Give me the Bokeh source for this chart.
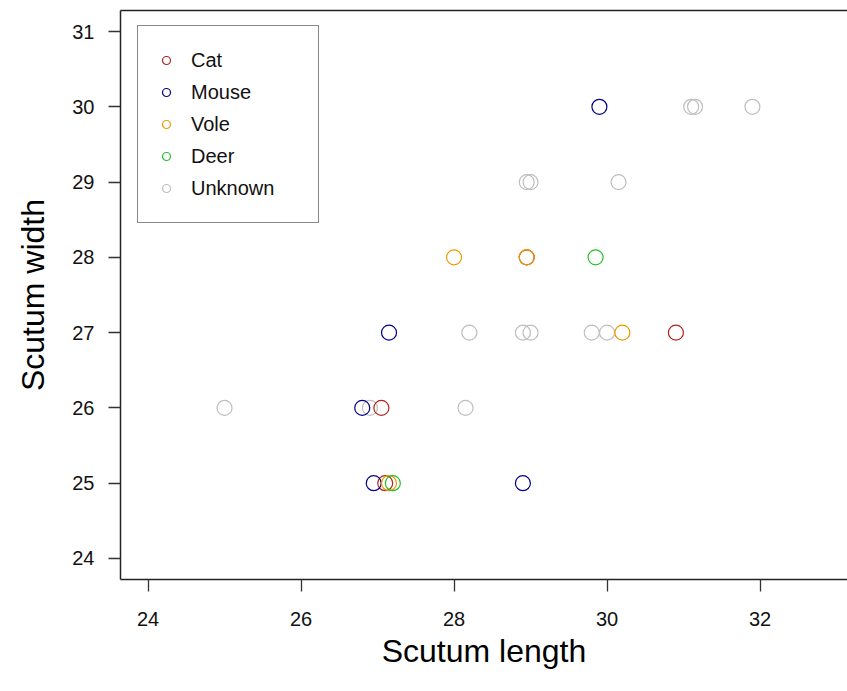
from bokeh.plotting import figure
from bokeh.models import Legend, LegendItem, LinearAxis, FixedTicker, Range1d
from bokeh.embed import file_html
from bokeh.resources import INLINE

# ---- data ----
cat_x = [27.05, 27.10, 28.95, 30.90]
cat_y = [26, 25, 28, 27]
mouse_x = [26.80, 26.95, 27.15, 28.90, 29.90]
mouse_y = [26, 25, 27, 25, 30]
vole_x = [27.15, 28.00, 28.95, 30.20]
vole_y = [25, 28, 28, 27]
deer_x = [27.20, 29.85]
deer_y = [25, 28]
unknown_x = [25.00, 26.90, 28.15, 28.20, 28.90, 29.00, 29.80, 30.00,
             28.95, 29.00, 30.15, 31.10, 31.15, 31.90]
unknown_y = [26, 26, 26, 27, 27, 27, 27, 27,
             29, 29, 29, 30, 30, 30]

series_names = ["Cat", "Mouse", "Vole", "Deer", "Unknown"]
series_colors = ["#B22222", "#00008B", "#EE9A00", "#22C422", "#BEBEBE"]
x_ticks = [24, 26, 28, 30, 32]
y_ticks = [24, 25, 26, 27, 28, 29, 30, 31]

FONT = "Liberation Sans"

p = figure(width=847, height=691, output_backend="svg", toolbar_location=None,
           x_range=Range1d(23.64, 33.143), y_range=Range1d(23.72, 31.28),
           min_border_left=120, min_border_right=0, min_border_top=10,
           min_border_bottom=112)
p.outline_line_color = None
p.xgrid.visible = False
p.ygrid.visible = False

data = {
    "Cat": (cat_x, cat_y),
    "Mouse": (mouse_x, mouse_y),
    "Vole": (vole_x, vole_y),
    "Deer": (deer_x, deer_y),
    "Unknown": (unknown_x, unknown_y),
}

renderers = {}
for name in ["Unknown", "Cat", "Mouse", "Vole", "Deer"]:
    xs, ys = data[name]
    col = series_colors[series_names.index(name)]
    r = p.scatter(x=xs, y=ys, marker="circle", size=15, fill_color=None,
                  line_color=col, line_width=1.2)
    renderers[name] = r

# axes styling
for ax, ticks in ((p.xaxis[0], x_ticks), (p.yaxis[0], y_ticks)):
    ax.ticker = FixedTicker(ticks=ticks)
    ax.minor_tick_line_color = None
    ax.major_tick_in = 0
    ax.major_tick_out = 12
    ax.major_tick_line_color = "#333333"
    ax.major_tick_line_width = 1.3
    ax.axis_line_color = "#222222"
    ax.axis_line_width = 1.5
    ax.major_label_text_font = FONT
    ax.major_label_text_font_size = "20px"
    ax.major_label_text_color = "#111111"
    ax.axis_label_text_font = FONT
    ax.axis_label_text_font_size = "32px"
    ax.axis_label_text_font_style = "normal"
    ax.axis_label_text_color = "#000000"

p.xaxis[0].axis_label = "Scutum length"
p.yaxis[0].axis_label = "Scutum width"
p.xaxis[0].major_label_standoff = 20
p.yaxis[0].major_label_standoff = 14
p.xaxis[0].axis_label_standoff = 4
p.yaxis[0].axis_label_standoff = 18
p.yaxis[0].major_label_orientation = "horizontal"

# top border line
top = LinearAxis(ticker=FixedTicker(ticks=[]), major_label_text_font_size="0px",
                 major_tick_out=0, major_tick_in=0, minor_tick_out=0, minor_tick_in=0,
                 major_label_standoff=0, axis_line_color="#222222", axis_line_width=1.5)
p.add_layout(top, "above")

legend = Legend(items=[LegendItem(label=n, renderers=[renderers[n]]) for n in series_names],
                location=(17, 356))
legend.label_text_font = FONT
legend.label_text_font_size = "20px"
legend.label_text_color = "#111111"
legend.glyph_width = 20
legend.glyph_height = 32
legend.label_height = 32
legend.spacing = 0
legend.padding = 18
legend.label_standoff = 15
legend.label_width = 109
legend.border_line_color = "#111111"
legend.border_line_width = 1.2
legend.background_fill_alpha = 1
p.add_layout(legend, "center")

open("out.html", "w").write(file_html(p, INLINE))
